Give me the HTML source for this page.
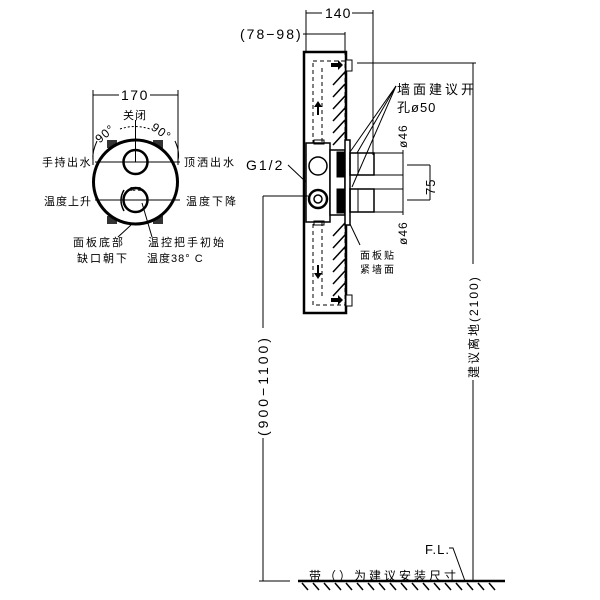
<!DOCTYPE html>
<html><head><meta charset="utf-8"><style>
body{margin:0;background:#fff}
svg{display:block}
text{font-family:"Liberation Sans","Noto Sans CJK SC",sans-serif;fill:#000}
</style></head><body>
<svg width="600" height="600" viewBox="0 0 600 600" xmlns="http://www.w3.org/2000/svg">
<g stroke="#000" fill="none" stroke-width="1">
<line x1="93" y1="95" x2="119" y2="95"/>
<line x1="150" y1="95" x2="178" y2="95"/>
<line x1="93" y1="90" x2="93" y2="165"/>
<line x1="178" y1="90" x2="178" y2="165"/>
<rect x="107" y="140" width="10" height="8" fill="#333" stroke="none"/>
<rect x="153" y="140" width="10" height="8" fill="#333" stroke="none"/>
<rect x="107" y="216" width="10" height="8" fill="#333" stroke="none"/>
<rect x="153" y="216" width="10" height="8" fill="#333" stroke="none"/>
<circle cx="135.5" cy="182" r="42" stroke-width="3" fill="#fff"/>
<circle cx="135.5" cy="162" r="12" stroke-width="2.5"/>
<circle cx="135.5" cy="200" r="12" stroke-width="2.5"/>
<line x1="135.5" y1="120" x2="135.5" y2="162"/>
<line x1="95" y1="162" x2="180" y2="162"/>
<line x1="95" y1="200" x2="180" y2="200"/>
<path d="M120 129 Q135 124 150 129" stroke-dasharray="2 2"/>
<path d="M97 141 Q92 152 93 160" />
<path d="M175 141 Q180 152 178 160" />
<path d="M124 190 Q118 200 124 211" stroke-width="1.5"/>
<line x1="131" y1="225" x2="118" y2="237"/>
<line x1="142" y1="203" x2="152" y2="237"/>
<line x1="306" y1="10" x2="306" y2="52"/>
<line x1="373" y1="10" x2="373" y2="155"/>
<line x1="306" y1="13" x2="322" y2="13"/>
<line x1="352" y1="13" x2="373" y2="13"/>
<line x1="303" y1="34" x2="345" y2="34"/>
<line x1="345" y1="32" x2="345" y2="55"/>
<rect x="304" y="52" width="42" height="261" stroke-width="2.5"/>
<rect x="313" y="61" width="32" height="244" stroke-dasharray="4 3"/>
<line x1="322" y1="68" x2="322" y2="298" stroke-dasharray="4 3"/>
<g stroke-width="1.5">
<path d="M333 85 L345 72 M333 97 L345 84 M333 109 L345 96 M333 121 L345 108 M333 133 L345 120 M333 145 L345 132"/>
<path d="M333 236 L345 223 M333 248 L345 235 M333 260 L345 247 M333 272 L345 259 M333 284 L345 271 M333 296 L345 283"/>
</g>
<rect x="346" y="60" width="6" height="11" fill="#fff"/>
<rect x="346" y="295" width="6" height="11" fill="#fff"/>
<rect x="306" y="143" width="24" height="79" stroke-width="1.5" fill="#fff"/>
<rect x="314" y="140" width="10" height="4"/>
<rect x="314" y="221" width="10" height="4"/>
<rect x="330" y="150" width="15" height="65" stroke-width="1.5" fill="#fff"/>
<rect x="337" y="152" width="8" height="25" fill="#000"/>
<rect x="337" y="189" width="8" height="24" fill="#000"/>
<rect x="345" y="140" width="5" height="85" stroke-width="1.5" fill="#fff"/>
<rect x="350" y="153" width="24" height="22" stroke-width="1.5"/>
<rect x="350" y="189" width="24" height="23" stroke-width="1.5"/>
<line x1="358" y1="153" x2="358" y2="175"/>
<line x1="358" y1="189" x2="358" y2="212"/>
<circle cx="318" cy="166" r="9" stroke-width="1.5"/>
<circle cx="318" cy="199" r="9" stroke-width="2.5"/>
<circle cx="318" cy="199" r="4" stroke-width="1.5"/>
<line x1="374" y1="153" x2="403" y2="153"/>
<line x1="374" y1="175" x2="403" y2="175"/>
<line x1="374" y1="189" x2="403" y2="189"/>
<line x1="374" y1="212" x2="403" y2="212"/>
<line x1="403" y1="150" x2="403" y2="215"/>
<line x1="407" y1="165" x2="430" y2="165"/>
<line x1="407" y1="200" x2="430" y2="200"/>
<line x1="430" y1="165" x2="430" y2="200"/>
<line x1="396" y1="86" x2="350" y2="152"/>
<line x1="396" y1="86" x2="352" y2="187"/>
<line x1="396" y1="86" x2="357" y2="153"/>
<line x1="350" y1="224" x2="360" y2="245"/>
<line x1="288" y1="165" x2="306" y2="182"/>
<line x1="357" y1="63" x2="476" y2="63"/>
<line x1="473" y1="63" x2="473" y2="264"/>
<line x1="473" y1="380" x2="473" y2="581"/>
<line x1="263" y1="196" x2="308" y2="196"/>
<line x1="263" y1="196" x2="263" y2="328"/>
<line x1="263" y1="438" x2="263" y2="581"/>
<line x1="259" y1="581" x2="290" y2="581"/>
<line x1="298" y1="581" x2="505" y2="581" stroke-width="2.5"/>
<path d="M302 583 l6 7 M313 583 l6 7 M324 583 l6 7 M335 583 l6 7 M346 583 l6 7 M357 583 l6 7 M368 583 l6 7 M379 583 l6 7 M390 583 l6 7 M401 583 l6 7 M412 583 l6 7 M423 583 l6 7 M434 583 l6 7 M445 583 l6 7 M456 583 l6 7 M467 583 l6 7 M478 583 l6 7 M489 583 l6 7" stroke-width="1.5"/>
<path d="M449 548 h4 l12 33"/>
</g>
<g fill="#000">
<path d="M331 63 h7 v-3 l5 5 l-5 5 v-3 h-7z"/>
<path d="M331 298 h7 v-3 l5 5 l-5 5 v-3 h-7z"/>
<path d="M317 115 v-8 h-3 l4 -6 l4 6 h-3 v8z"/>
<path d="M317 265 v8 h-3 l4 6 l4 -6 h-3 v-8z"/>
</g>
<g font-size="12" letter-spacing="1">
<text x="121" y="100" font-size="14" letter-spacing="1.5">170</text>
<text x="123" y="119" font-size="11">关闭</text>
<text x="96" y="142" font-size="12" transform="rotate(-40 100 138)">90°</text>
<text x="150" y="134" font-size="12" transform="rotate(35 158 132)">90°</text>
<text x="42" y="166" font-size="11" letter-spacing="1.5">手持出水</text>
<text x="184" y="166" font-size="11" letter-spacing="2">顶洒出水</text>
<text x="44" y="205" font-size="11" letter-spacing="1">温度上升</text>
<text x="186" y="205" font-size="11" letter-spacing="2">温度下降</text>
<text x="130" y="191" font-size="5" font-weight="bold" letter-spacing="0">38°C</text>
<text x="73" y="246" font-size="11" letter-spacing="2">面板底部</text>
<text x="77" y="262" font-size="11" letter-spacing="2">缺口朝下</text>
<text x="148" y="246" font-size="11" letter-spacing="2">温控把手初始</text>
<text x="147" y="262" font-size="11" letter-spacing="1">温度38° C</text>
<text x="325" y="18" font-size="14" letter-spacing="1">140</text>
<text x="240" y="39" font-size="14" letter-spacing="2">(78−98)</text>
<text x="246" y="170" font-size="14" letter-spacing="2">G1/2</text>
<text x="397" y="94" font-size="13" letter-spacing="3">墙面建议开</text>
<text x="397" y="112" font-size="13" letter-spacing="1">孔ø50</text>
<text x="360" y="259" font-size="10" letter-spacing="2">面板贴</text>
<text x="360" y="273" font-size="10" letter-spacing="2">紧墙面</text>
<text transform="translate(407 148) rotate(-90)" font-size="12">ø46</text>
<text transform="translate(407 245) rotate(-90)" font-size="12">ø46</text>
<text transform="translate(435 195) rotate(-90)" font-size="13">75</text>
<text transform="translate(268 436) rotate(-90)" font-size="14" letter-spacing="3">(900−1100)</text>
<text transform="translate(478 378) rotate(-90)" font-size="12" letter-spacing="2">建议离地(2100)</text>
<text x="425" y="554" font-size="13">F.L.</text>
<text x="309" y="580" font-size="12" letter-spacing="3">带（）为建议安装尺寸</text>
</g>
</svg>
</body></html>
